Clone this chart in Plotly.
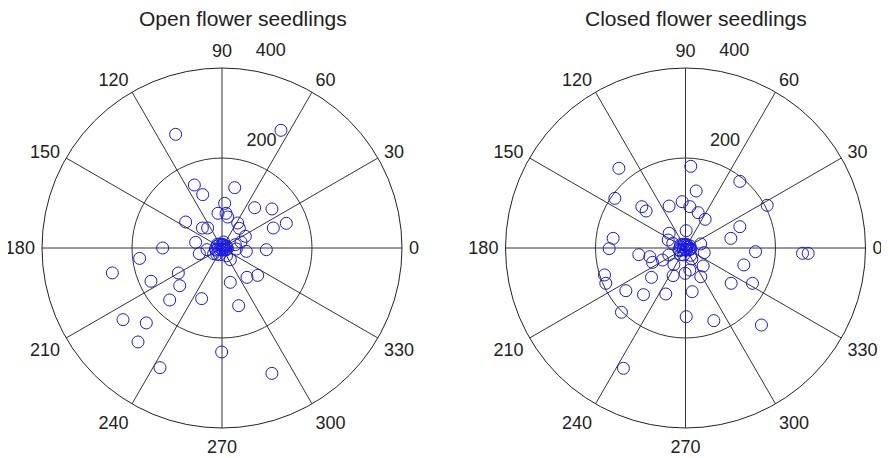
import plotly.graph_objects as go

# ---- data (radius, angle in degrees) ----
open_r = [272.8, 292.5, 152.9, 126.1, 137.0, 99.4, 77.6, 77.6, 70.0, 115.3, 140.9, 153.1,
          122.4, 65.6, 58.3, 58.0, 44.3, 99.3, 62.3, 54.7, 59.9, 131.9, 33.5, 51.9, 22.4,
          31.9, 54.6, 98.6, 31.9, 184.4, 249.9, 111.8, 174.3, 125.9, 85.6, 99.9, 78.5,
          163.9, 121.3, 133.4, 271.6, 236.7, 280.1, 231.1, 299.5, 299.9, 13.8, 30.5,
          4, 6, 8, 10, 12, 14, 16, 5, 9, 11, 7, 13, 15, 18, 3, 20, 10, 8, 6, 12]
open_theta = [112.2, 63.4, 113.7, 109.9, 78.1, 86.6, 96.6, 83.4, 79.6, 51.0, 38.0, 21.0,
              21.3, 57.9, 48.6, 26.6, 17.5, 144.4, 134.5, 125.6, 167.9, 180.0, 186.3, 194.0,
              214.2, 356.0, 352.2, 357.8, 305.5, 187.2, 192.8, 209.8, 205.1, 221.7, 310.4,
              322.5, 283.6, 224.8, 248.1, 286.1, 215.9, 224.7, 228.2, 269.8, 242.6, 291.7,
              74.0, 14.0,
              10, 45, 80, 120, 160, 200, 250, 290, 330, 20, 100, 140, 190, 230, 270, 300,
              340, 60, 215, 355]

closed_r = [230.8, 181.9, 191.1, 191.9, 128.9, 204.8, 133.6, 120.0, 100.1, 103.2, 92.4,
            83.4, 77.3, 129.7, 103.0, 38.5, 48.8, 42.4, 162.2, 169.6, 104.8, 81.6, 79.9,
            57.7, 155.8, 260.3, 272.9, 42.8, 135.0, 56.0, 72.2, 189.7, 193.7, 99.8, 67.3,
            56.3, 49.8, 128.3, 168.3, 163.0, 139.5, 111.2, 98.2, 201.6, 152.6, 173.3,
            240.4, 300.8, 40.2, 30.0, 35.0, 28.0, 45.0,
            4, 6, 8, 10, 12, 14, 16, 5, 9, 11, 7, 13, 15, 18, 3, 20, 10, 8, 6, 12]
closed_theta = [129.9, 86.3, 50.8, 144.9, 79.4, 27.6, 136.6, 136.8, 111.3, 94.1, 84.0,
                70.3, 55.6, 21.4, 12.0, 87.8, 138.1, 155.2, 172.4, 180.5, 188.1, 193.7,
                203.5, 207.6, 357.0, 357.4, 357.5, 346.0, 343.8, 314.5, 298.1, 198.4,
                203.9, 220.8, 245.9, 269.2, 281.1, 322.3, 332.2, 215.6, 228.0, 246.8,
                278.7, 225.1, 270.6, 291.3, 314.6, 242.7, 202.8, 160.0, 15.0, 300.0, 235.0,
                15, 50, 85, 125, 165, 205, 255, 295, 335, 25, 105, 145, 195, 235, 275, 305,
                345, 65, 220, 350]

titles = ["Open flower seedlings", "Closed flower seedlings"]
angle_ticks = list(range(0, 360, 30))
radial_ticks = [200, 400]

FONT = "Liberation Sans, Arial, Helvetica, sans-serif"
W, H = 889, 458
OFF = 8  # page body margin offset in the browser
RAD_ANGLE = 84

marker = dict(symbol="circle-open", size=12, color="#1818e8", line=dict(width=1, color="#1818e8"))

fig = go.Figure()
fig.add_trace(go.Scatterpolar(r=open_r, theta=open_theta, mode="markers",
                              marker=marker, subplot="polar", showlegend=False))
fig.add_trace(go.Scatterpolar(r=closed_r, theta=closed_theta, mode="markers",
                              marker=marker, subplot="polar2", showlegend=False))

def px_dom(x0, x1, y0, y1):
    return dict(x=[(x0 - OFF) / W, (x1 - OFF) / W],
                y=[1 - (y1 - OFF) / H, 1 - (y0 - OFF) / H])

def polar_layout(dom):
    return dict(
        domain=dom,
        bgcolor="white",
        radialaxis=dict(range=[0, 400], tickvals=radial_ticks,
                        ticktext=[str(v) + "<br> <br> " for v in radial_ticks],
                        angle=RAD_ANGLE, side="clockwise", tickangle=RAD_ANGLE,
                        showline=False, ticks="outside", ticklen=2, tickcolor="rgba(0,0,0,0)",
                        gridcolor="#333333", gridwidth=1,
                        tickfont=dict(size=18, color="#222", family=FONT)),
        angularaxis=dict(rotation=0, direction="counterclockwise",
                         tickvals=angle_ticks, ticktext=[str(v) for v in angle_ticks],
                         showline=True, linecolor="#222222", linewidth=1,
                         gridcolor="#333333", gridwidth=1,
                         ticks="outside", ticklen=3, tickcolor="rgba(0,0,0,0)",
                         tickfont=dict(size=18, color="#222", family=FONT)),
    )

fig.update_layout(
    width=W, height=H,
    margin=dict(l=0, r=0, t=0, b=0),
    paper_bgcolor="white",
    font=dict(family=FONT, color="#222"),
    polar=polar_layout(px_dom(42, 402, 68, 428)),
    polar2=polar_layout(px_dom(505.5, 865.5, 68, 428)),
    annotations=[
        dict(text=titles[0], x=(243 - OFF) / W, y=1 - (18 - OFF) / H, xref="paper", yref="paper",
             xanchor="center", yanchor="middle", showarrow=False,
             font=dict(size=21, color="#222", family=FONT)),
        dict(text=titles[1], x=(696 - OFF) / W, y=1 - (18 - OFF) / H, xref="paper", yref="paper",
             xanchor="center", yanchor="middle", showarrow=False,
             font=dict(size=21, color="#222", family=FONT)),
    ],
)

fig.write_html("out.html")
